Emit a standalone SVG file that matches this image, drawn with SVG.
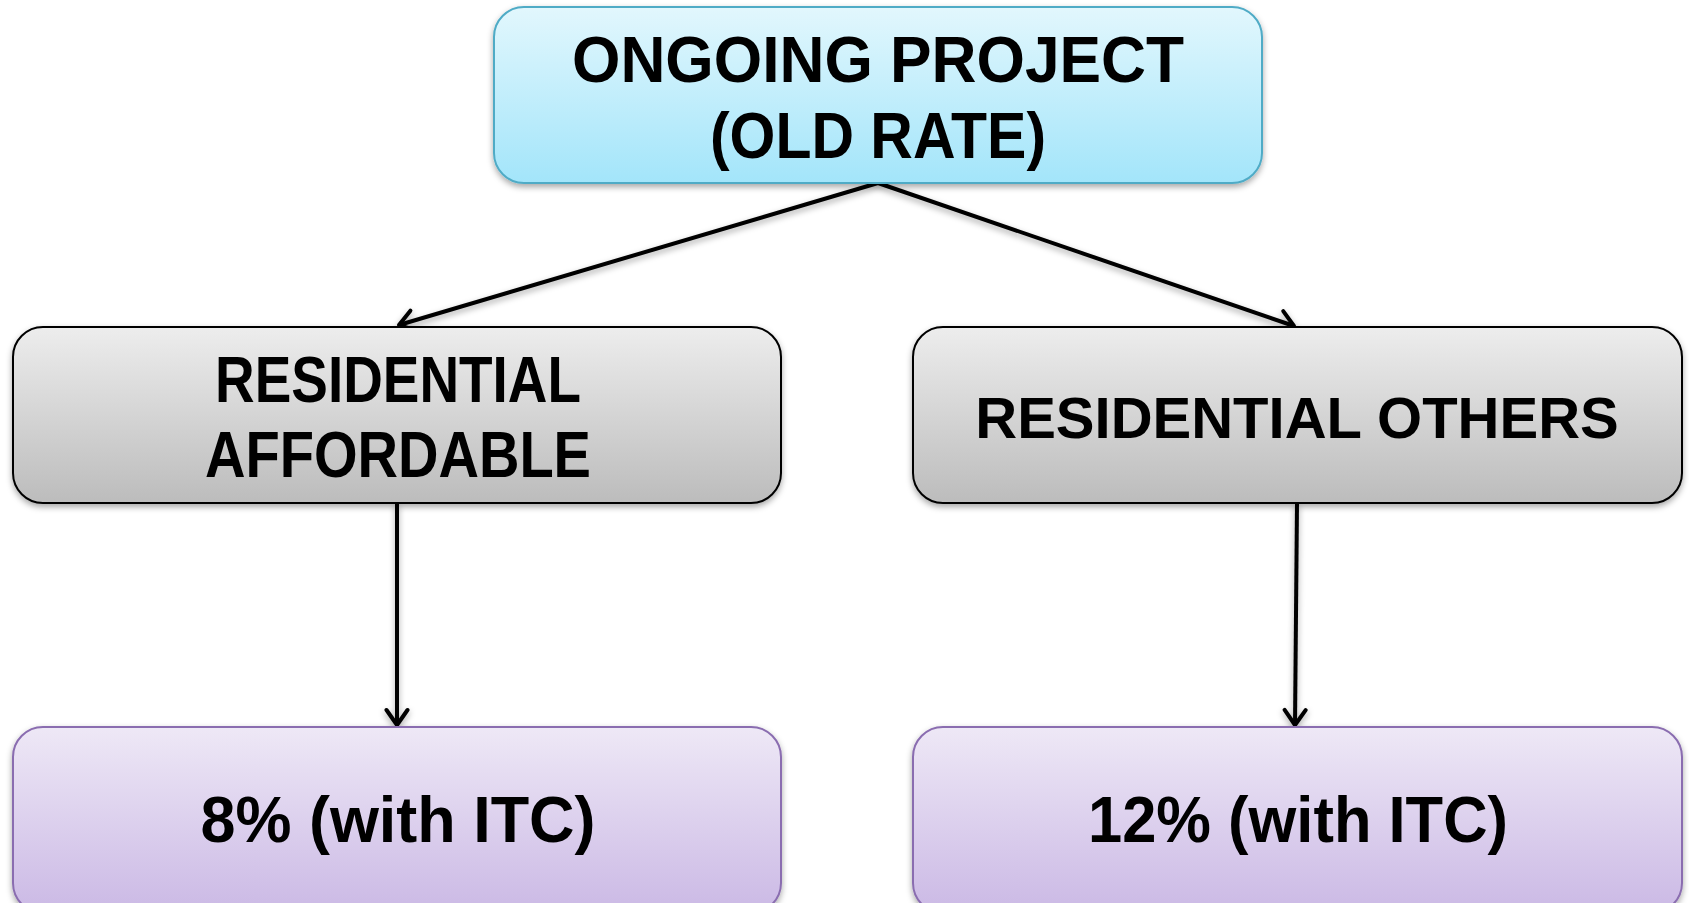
<svg xmlns="http://www.w3.org/2000/svg" width="1689" height="903" viewBox="0 0 1689 903">
  <defs>
    <linearGradient id="gBlue" x1="0" y1="0" x2="0" y2="1">
      <stop offset="0" stop-color="#e2f7fd"/>
      <stop offset="1" stop-color="#a3e5fa"/>
    </linearGradient>
    <linearGradient id="gGray" x1="0" y1="0" x2="0" y2="1">
      <stop offset="0" stop-color="#ededed"/>
      <stop offset="1" stop-color="#bcbcbc"/>
    </linearGradient>
    <linearGradient id="gPurple" x1="0" y1="0" x2="0" y2="1">
      <stop offset="0" stop-color="#eee8f6"/>
      <stop offset="1" stop-color="#cbb9e5"/>
    </linearGradient>
    <filter id="shadow" x="-5%" y="-10%" width="110%" height="125%">
      <feDropShadow dx="0" dy="3" stdDeviation="3" flood-color="#000" flood-opacity="0.35"/>
    </filter>
    <!-- open chevron arrowhead -->
    <marker id="arrow" viewBox="0 0 24 26" refX="20" refY="13" markerWidth="24" markerHeight="26" markerUnits="userSpaceOnUse" orient="auto">
      <path d="M5,2.5 L20,13 L5,23.5" fill="none" stroke="#000" stroke-width="4" stroke-linecap="round" stroke-linejoin="round"/>
    </marker>
  </defs>
  <style>
    .lbl { font-family: "Liberation Sans", Arial, sans-serif; font-weight: bold; font-size: 64px; fill: #000; text-anchor: middle; }
    .conn { stroke: #000; stroke-width: 4; fill: none; marker-end: url(#arrow); }
    .blue { fill: url(#gBlue); stroke: #4fabc6; stroke-width: 2; }
    .gray { fill: url(#gGray); stroke: #000; stroke-width: 2; }
    .purple { fill: url(#gPurple); stroke: #8a6db0; stroke-width: 2; }
  </style>

  <rect width="1689" height="903" fill="#fff"/>

  <!-- connectors -->
  <g id="connectors" filter="url(#shadow)">
    <line class="conn" x1="878" y1="183" x2="399" y2="325"/>
    <line class="conn" x1="878" y1="183" x2="1294" y2="326"/>
    <line class="conn" x1="397" y1="503" x2="397" y2="725"/>
    <line class="conn" x1="1297" y1="503" x2="1295" y2="725"/>
  </g>

  <!-- top node -->
  <g id="node-ongoing">
    <rect class="blue" x="494" y="7" width="768" height="176" rx="30" ry="30" filter="url(#shadow)"/>
    <text class="lbl" x="878" y="82" textLength="612" lengthAdjust="spacingAndGlyphs">ONGOING PROJECT</text>
    <text class="lbl" x="878" y="158" textLength="336" lengthAdjust="spacingAndGlyphs">(OLD RATE)</text>
  </g>

  <!-- second row -->
  <g id="node-affordable">
    <rect class="gray" x="13" y="327" width="768" height="176" rx="30" ry="30" filter="url(#shadow)"/>
    <text class="lbl" x="398" y="402" textLength="366" lengthAdjust="spacingAndGlyphs">RESIDENTIAL</text>
    <text class="lbl" x="398" y="477" textLength="386" lengthAdjust="spacingAndGlyphs">AFFORDABLE</text>
  </g>

  <g id="node-others">
    <rect class="gray" x="913" y="327" width="769" height="176" rx="30" ry="30" filter="url(#shadow)"/>
    <text class="lbl" x="1297" y="438" style="font-size:58px">RESIDENTIAL OTHERS</text>
  </g>

  <!-- bottom row -->
  <g id="node-rate-8">
    <rect class="purple" x="13" y="727" width="768" height="186" rx="30" ry="30" filter="url(#shadow)"/>
    <text class="lbl" x="398" y="842" textLength="395" lengthAdjust="spacingAndGlyphs">8% (with ITC)</text>
  </g>

  <g id="node-rate-12">
    <rect class="purple" x="913" y="727" width="769" height="186" rx="30" ry="30" filter="url(#shadow)"/>
    <text class="lbl" x="1298" y="842" textLength="420" lengthAdjust="spacingAndGlyphs">12% (with ITC)</text>
  </g>
</svg>
